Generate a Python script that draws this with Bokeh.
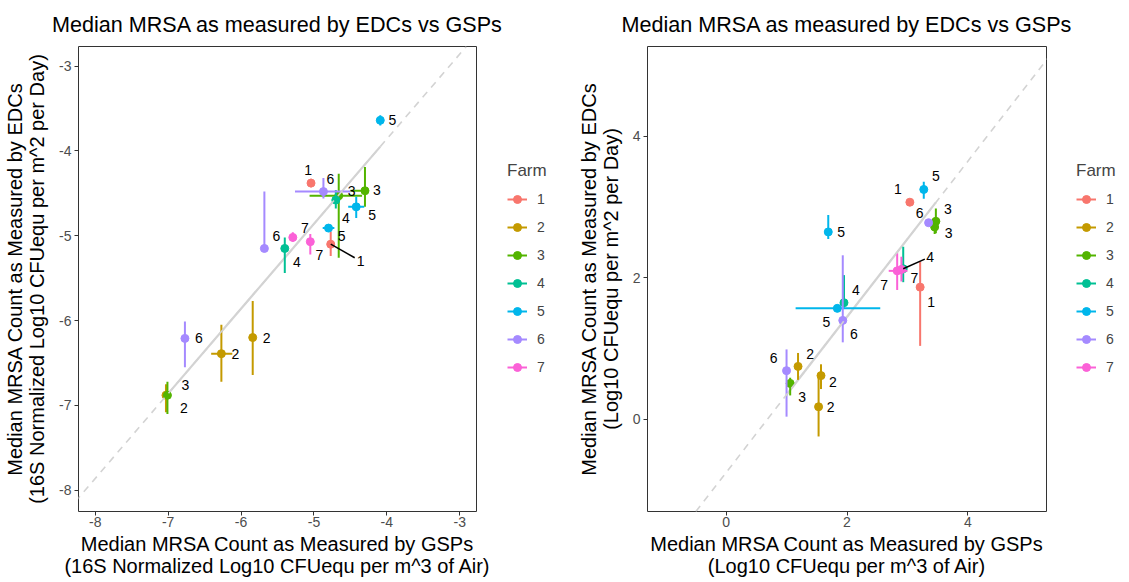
import numpy as np
from bokeh.plotting import figure
from bokeh.models import ColumnDataSource, Legend, LegendItem, Slope, Range1d, FixedTicker
from bokeh.layouts import row
from bokeh.embed import file_html
from bokeh.resources import INLINE
from bokeh.core.properties import value

FARMS = ["1", "2", "3", "4", "5", "6", "7"]
COLORS = ["#F8766D", "#C49A00", "#53B400", "#00C094", "#00B6EB", "#A58AFF", "#FB61D7"]

TITLE = "Median MRSA as measured by EDCs vs GSPs"

# ---------------- left panel (16S normalized) ----------------
L_farm = [5, 1, 6, 3, 3, 4, 5, 5, 1, 7, 7, 6, 4, 6, 2, 2, 3, 2]
L_x = [-4.09, -5.04, -4.87, -4.66, -4.30, -4.70, -4.42, -4.80, -4.77, -5.05, -5.29, -5.68, -5.40, -6.77, -6.27, -5.84, -7.01, -7.03]
L_y = [-3.64, -4.38, -4.48, -4.53, -4.47, -4.58, -4.66, -4.91, -5.10, -5.07, -5.02, -5.15, -5.15, -6.21, -6.39, -6.20, -6.88, -6.88]
L_ylo = [-3.70, -4.43, -4.56, -5.26, -4.66, -4.68, -4.79, -4.95, -5.24, -5.22, -5.07, -5.15, -5.44, -6.55, -6.72, -6.64, -7.10, -7.08]
L_yhi = [-3.58, -4.33, -4.32, -4.27, -4.19, -4.46, -4.54, -4.87, -4.95, -4.98, -4.96, -4.48, -5.02, -6.01, -6.05, -5.77, -6.72, -6.75]
L_xlo = [-4.13, -5.04, -5.26, -5.06, -4.50, -4.75, -4.53, -4.88, -4.77, -5.05, -5.29, -5.68, -5.40, -6.77, -6.41, -5.84, -7.05, -7.03]
L_xhi = [-4.05, -5.04, -4.50, -4.34, -4.25, -4.65, -4.31, -4.72, -4.77, -5.05, -5.29, -5.68, -5.40, -6.77, -6.12, -5.84, -6.97, -7.03]
L_fit = (1.0, 0.14)  # slope, intercept
L_ticks = [-8, -7, -6, -5, -4, -3]
L_xlabel = "Median MRSA Count as Measured by GSPs\n(16S Normalized Log10 CFUequ per m^3 of Air)"
L_ylabel = "Median MRSA Count as Measured by EDCs\n(16S Normalized Log10 CFUequ per m^2 per Day)"

# label offsets (screen px) -- styling
L_dx = [12, -3, 7, 13, 12, 10, 16, 13, 30, 9, 12, 12, 12, 14, 14, 14, 18, 18]
L_dy = [0, -13, -13, -5, -1, 18, 8, 8, 17, 13, -9, -12, 14, 0, 0, 0, -10, 13]
L_seg = [8]

# ---------------- right panel (absolute) ----------------
R_farm = [1, 5, 4, 5, 6, 7, 7, 4, 1, 5, 6, 3, 3, 6, 2, 3, 2, 2]
R_x = [3.04, 1.69, 1.95, 1.84, 1.93, 2.83, 2.90, 2.93, 3.21, 3.27, 3.35, 3.47, 3.45, 1.00, 1.19, 1.06, 1.57, 1.53]
R_y = [3.07, 2.65, 1.65, 1.57, 1.40, 2.10, 2.12, 2.13, 1.87, 3.25, 2.78, 2.80, 2.72, 0.69, 0.75, 0.51, 0.62, 0.18]
R_ylo = [3.07, 2.55, 1.58, 1.57, 1.09, 1.83, 1.95, 1.94, 1.04, 3.12, 2.78, 2.63, 2.62, 0.04, 0.56, 0.34, 0.43, -0.24]
R_yhi = [3.07, 2.89, 2.04, 1.57, 2.32, 2.35, 2.30, 2.44, 2.23, 3.36, 2.78, 2.98, 2.80, 0.99, 0.94, 0.59, 0.78, 0.59]
R_xlo = [3.04, 1.64, 1.90, 1.15, 1.93, 2.69, 2.90, 2.93, 3.21, 3.27, 3.35, 3.47, 3.45, 1.00, 1.19, 1.06, 1.53, 1.53]
R_xhi = [3.04, 1.74, 2.00, 2.55, 1.93, 3.00, 2.90, 2.93, 3.21, 3.27, 3.35, 3.47, 3.45, 1.00, 1.19, 1.06, 1.61, 1.53]
R_fit = (1.1, -0.75)
R_ticks = [0, 2, 4]
R_xlabel = "Median MRSA Count as Measured by GSPs\n(Log10 CFUequ per m^3 of Air)"
R_ylabel = "Median MRSA Count as Measured by EDCs\n(Log10 CFUequ per m^2 per Day)"

R_dx = [-12, 13, 12, -11, 11, -13, 13, 27, 11, 12, -9, 12, 14, -13, 12, 12, 12, 12]
R_dy = [-13, 0, -13, 14, 14, 14, 9, -12, 15, -13, -10, -12, 6, -13, -12, 14, 6, 0]
R_seg = [7]

FONT = "Liberation Sans"
H = 582


def make_panel(farm, x, y, ylo, yhi, xlo, xhi, fit, ticks, xr, yr, xlabel, ylabel,
               dx, dy, seg_idx, fw, fh, mb_left, mb_right, mb_top):
    W = mb_left + fw + mb_right
    p = figure(width=W, height=H, output_backend="svg", toolbar_location=None,
               x_range=Range1d(*xr), y_range=Range1d(*yr),
               min_border_left=mb_left, min_border_right=mb_right,
               min_border_top=mb_top, min_border_bottom=H - mb_top - fh, title=TITLE)
    p.title.text_font = FONT
    p.title.text_font_size = "21.6px"
    p.title.text_font_style = "normal"
    p.title.align = "center"
    p.title.text_color = "#000000"
    p.title.standoff = 19
    p.outline_line_color = "#333333"
    p.outline_line_width = 1
    p.outline_line_alpha = 1
    p.grid.visible = False
    p.background_fill_color = "white"
    p.border_fill_color = "white"

    for ax, lab in ((p.xaxis, xlabel), (p.yaxis, ylabel)):
        ax.ticker = FixedTicker(ticks=ticks)
        ax.major_label_overrides = {t: str(t) for t in ticks}
        ax.axis_label = lab
        ax.axis_label_text_font = FONT
        ax.axis_label_text_font_size = "20px"
        ax.axis_label_text_font_style = "normal"
        ax.axis_label_text_color = "#000000"
        ax.axis_label_text_line_height = 1.0
        ax.major_label_text_font = FONT
        ax.major_label_text_font_size = "14px"
        ax.major_label_text_color = "#4D4D4D"
        ax.major_tick_line_color = "#333333"
        ax.major_tick_out = 4
        ax.major_tick_in = 0
        ax.minor_tick_line_color = None
        ax.axis_line_color = None
    p.xaxis.major_label_standoff = 1
    p.xaxis.axis_label_standoff = 3
    p.yaxis.major_label_standoff = 3
    p.yaxis.axis_label_standoff = 8
    p.yaxis.major_label_orientation = "horizontal"

    slope, icpt = fit
    p.add_layout(Slope(gradient=slope, y_intercept=icpt, line_color="#D3D3D3",
                       line_width=1.6, line_dash="7 6"))
    x0, x1 = min(x), max(x)
    p.line([x0, x1], [slope * x0 + icpt, slope * x1 + icpt], line_color="#D3D3D3", line_width=2.2)

    ppx = fw / (xr[1] - xr[0])
    ppy = fh / (yr[1] - yr[0])

    farm = np.array(farm)
    for f, c in zip(FARMS, COLORS):
        m = farm == int(f)
        src = ColumnDataSource(dict(
            x=np.array(x)[m], y=np.array(y)[m],
            ylo=np.array(ylo)[m], yhi=np.array(yhi)[m],
            xlo=np.array(xlo)[m], xhi=np.array(xhi)[m]))
        p.segment("x", "ylo", "x", "yhi", source=src, line_color=c, line_width=2)
        p.segment("xlo", "y", "xhi", "y", source=src, line_color=c, line_width=2)
        p.scatter("x", "y", source=src, size=8, fill_color=c, line_color=c)

    # repel segments
    for k in seg_idx:
        ex = x[k] + 0.8 * dx[k] / ppx
        ey = y[k] - 0.8 * dy[k] / ppy
        p.segment(x0=[x[k]], y0=[y[k]], x1=[ex], y1=[ey], line_color="black", line_width=1.5)

    lsrc = ColumnDataSource(dict(x=x, y=y, t=[str(v) for v in farm], dx=dx, dy=dy))
    p.text("x", "y", text="t", source=lsrc, x_offset="dx", y_offset="dy",
           text_font=value(FONT), text_font_size="14px", text_color="black",
           text_align="center", text_baseline="middle")
    return p


def make_legend(W):
    q = figure(width=W, height=H, output_backend="svg", toolbar_location=None,
               x_range=Range1d(0, 1), y_range=Range1d(0, 1), min_border=0,
               x_axis_location=None, y_axis_location=None)
    q.grid.visible = False
    q.outline_line_color = None
    q.border_fill_color = "white"
    items = []
    nan = [float("nan")]
    for f, c in zip(FARMS, COLORS):
        r_v = q.segment(x0=nan, y0=nan, x1=nan, y1=nan, line_color=c, line_width=2)
        r_p = q.scatter(x=nan, y=nan, size=8, fill_color=c, line_color=c)
        items.append(LegendItem(label=f, renderers=[r_v, r_p]))
    leg = Legend(items=items, title="Farm", location=(0, 134))
    leg.title_text_font = FONT
    leg.title_text_font_size = "17px"
    leg.title_text_font_style = "normal"
    leg.label_text_font = FONT
    leg.label_text_font_size = "14px"
    leg.border_line_color = None
    leg.background_fill_alpha = 0
    leg.glyph_width = 20
    leg.glyph_height = 20
    leg.label_height = 20
    leg.label_standoff = 10
    leg.spacing = 8
    leg.margin = 0
    leg.padding = 0
    leg.title_standoff = 8
    q.add_layout(leg, "center")
    return q


left = make_panel(L_farm, L_x, L_y, L_ylo, L_yhi, L_xlo, L_xhi, L_fit, L_ticks,
                  (-8.23, -2.77), (-8.25, -2.77), L_xlabel, L_ylabel,
                  L_dx, L_dy, L_seg, 398, 467, 78, 31, 44)
right = make_panel(R_farm, R_x, R_y, R_ylo, R_yhi, R_xlo, R_xhi, R_fit, R_ticks,
                   (-1.3, 5.3), (-1.3, 5.27), R_xlabel, R_ylabel,
                   R_dx, R_dy, R_seg, 399, 467, 84, 30, 44)

layout = row(left, make_legend(56), right, make_legend(45), spacing=0)
open("out.html", "w").write(file_html(layout, INLINE))
